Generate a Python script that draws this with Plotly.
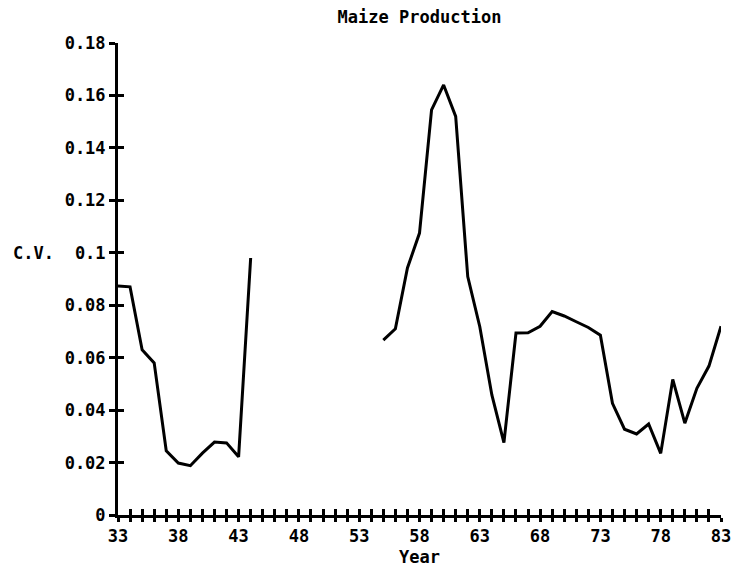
import plotly.graph_objects as go

years = list(range(33, 84))
cv_part1 = [0.0873, 0.087, 0.063, 0.058, 0.0245, 0.0198, 0.0188, 0.0236, 0.0278, 0.0275, 0.0222, 0.098]
cv_gap = [None] * 10
cv_part2 = [0.0667, 0.071, 0.0942, 0.1075, 0.1545, 0.164, 0.152, 0.0909, 0.0718, 0.0458,
            0.0276, 0.0694, 0.0695, 0.072, 0.0776, 0.0759, 0.0737, 0.0715, 0.0686, 0.0426,
            0.0327, 0.0309, 0.0347, 0.0235, 0.0517, 0.035, 0.0483, 0.0568, 0.072]
cv = cv_part1 + cv_gap + cv_part2

y_tickvals = [0, 0.02, 0.04, 0.06, 0.08, 0.1, 0.12, 0.14, 0.16, 0.18]
y_ticktext = ["0", "0.02", "0.04", "0.06", "0.08", "0.1", "0.12", "0.14", "0.16", "0.18"]
x_ticktext = [str(y) if (y - 33) % 5 == 0 else "" for y in years]

FONT = dict(family="DejaVu Sans Mono", size=17, color="black", weight="bold")

fig = go.Figure()
fig.add_trace(go.Scatter(x=years, y=cv, mode="lines", connectgaps=False,
                         line=dict(color="black", width=3), showlegend=False))
fig.add_trace(go.Scatter(x=[33, 83], y=[0, 0.18], xaxis="x2", yaxis="y2", mode="markers",
                         marker=dict(opacity=0), showlegend=False, hoverinfo="skip"))

axis_common = dict(showgrid=False, zeroline=False, showline=True, linecolor="black",
                   linewidth=3, tickcolor="black", tickwidth=2.5, automargin=False)

fig.update_layout(
    width=734, height=570,
    margin=dict(l=118, r=13, t=43, b=55),
    plot_bgcolor="white", paper_bgcolor="white",
    title=dict(text="Maize Production", x=0.5, xref="paper", y=0.97, yref="container",
               xanchor="center", yanchor="middle", font=FONT),
    xaxis=dict(range=[33, 83], tickmode="array", tickvals=years, ticktext=x_ticktext,
               ticks="outside", ticklen=4, tickfont=FONT, **axis_common),
    yaxis=dict(range=[0, 0.18], tickmode="array", tickvals=y_tickvals, ticktext=y_ticktext,
               ticks="outside", ticklen=6, tickfont=FONT, **axis_common),
    xaxis2=dict(range=[33, 83], overlaying="x", tickmode="array", tickvals=years,
                showticklabels=False, ticks="inside", ticklen=6, **axis_common),
    yaxis2=dict(range=[0, 0.18], overlaying="y", tickmode="array", tickvals=y_tickvals,
                showticklabels=False, ticks="inside", ticklen=6, **axis_common),
    annotations=[
        dict(text="C.V.", x=-0.178, y=0.555, xref="paper", yref="paper", showarrow=False,
             xanchor="left", yanchor="middle", font=FONT),
        dict(text="Year", x=0.5, y=-0.089, xref="paper", yref="paper", showarrow=False,
             yanchor="middle", font=FONT),
    ],
)

fig.write_html("out.html")
